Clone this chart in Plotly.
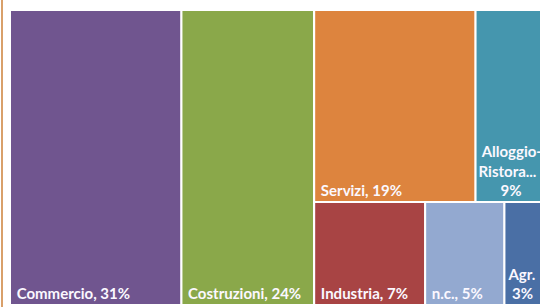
import plotly.graph_objects as go

# Data
categories = ["Commercio", "Costruzioni", "Servizi", "Alloggio-Ristorazione", "Industria", "n.c.", "Agricoltura"]
display_labels = ["&nbsp;Commercio, 31%", "&nbsp;Costruzioni, 24%", "&nbsp;Servizi, 19%",
                  "&nbsp;Alloggio-<br>Ristora...<br>" + "&nbsp;" * 6 + "9%",
                  "&nbsp;Industria, 7%", "&nbsp;n.c., 5%", "Agr.<br>&nbsp;3%"]
shares = [31, 24, 19, 9, 7, 5, 3]
colors = ["#70558f", "#8aa84a", "#dd843e", "#4596ae", "#a84444", "#93a9d0", "#4a6fa5"]
# grouping that reproduces the original (Excel) tiling
groups = ["", "", "Altri/Sopra", "Altri/Sopra", "Altri/Sotto", "Altri/Sotto", "Altri/Sotto"]
group_ids = ["Altri", "Altri/Sopra", "Altri/Sotto"]
group_parents = ["", "Altri", "Altri"]

ids, parents, values, texts, cols, labels = [], [], [], [], [], []


def add_leaf(i):
    ids.append(categories[i]); parents.append(groups[i]); values.append(shares[i])
    texts.append("<b>" + display_labels[i] + "</b>"); cols.append(colors[i]); labels.append(categories[i])


def add_group(j):
    ids.append(group_ids[j]); parents.append(group_parents[j]); values.append(0)
    texts.append(""); cols.append("#ffffff"); labels.append(group_ids[j])


add_leaf(0); add_leaf(1)
add_group(0)
add_group(1); add_leaf(2); add_leaf(3)
add_group(2); add_leaf(4); add_leaf(5); add_leaf(6)

fig = go.Figure(go.Treemap(
    ids=ids, labels=labels, parents=parents, values=values,
    branchvalues="remainder", sort=False,
    texttemplate=texts, textposition="bottom left",
    textfont=dict(family="Lato", size=15, color="#fbf8ff"),
    marker=dict(colors=cols, line=dict(color="white", width=2),
                pad=dict(t=0, l=0, r=0, b=0)),
    tiling=dict(packing="squarify", pad=0),
    pathbar=dict(visible=False),
    hoverinfo="label+value",
))
fig.update_layout(
    width=552, height=307,
    margin=dict(l=10, r=0, t=10, b=2),
    paper_bgcolor="white",
    uniformtext=dict(minsize=15, mode="show"),
    shapes=[dict(type="line", xref="paper", yref="paper", xsizemode="pixel", xanchor=0,
                 x0=-8, x1=-8, y0=-0.02, y1=1.04, line=dict(color="#d9a06a", width=2))],
)
fig.write_html("out.html", config={"displayModeBar": False},
               post_script="document.body.style.margin='0';document.body.style.overflow='hidden';")
